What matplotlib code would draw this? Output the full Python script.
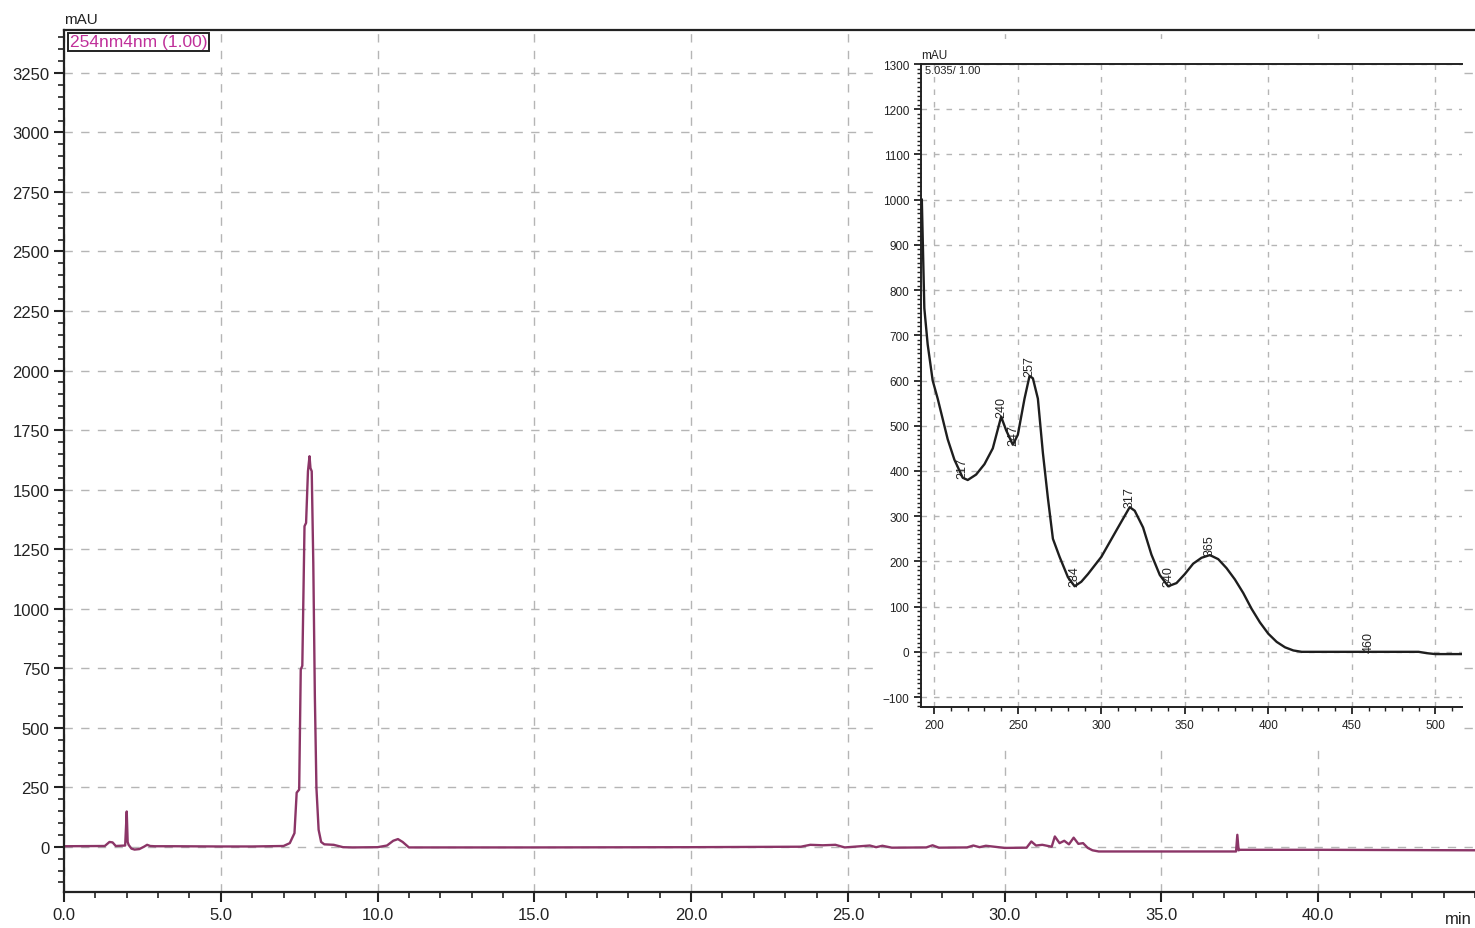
import numpy as np
import matplotlib
matplotlib.use("Agg")
import matplotlib.pyplot as plt
from matplotlib.ticker import MultipleLocator, FormatStrFormatter
from matplotlib.patches import Rectangle

plt.rcParams['font.family'] = ['Liberation Sans', 'DejaVu Sans']

# chromatogram, 254 nm
time_min = [0.0, 1.3, 1.45, 1.55, 1.65, 1.95, 2.0, 2.03, 2.06, 2.15,
            2.25, 2.4, 2.55, 2.65, 2.75, 2.9, 3.5, 5.0, 6.0, 7.0,
            7.2, 7.35, 7.42, 7.5, 7.55, 7.6, 7.67, 7.72, 7.78, 7.83,
            7.86, 7.9, 7.95, 8.0, 8.05, 8.12, 8.2, 8.3, 8.6, 8.9,
            9.2, 10.0, 10.3, 10.5, 10.65, 10.8, 11.0, 11.5, 15.0, 20.0,
            23.5, 23.8, 24.2, 24.6, 24.9, 25.7, 25.9, 26.1, 26.4, 27.5,
            27.7, 27.9, 28.8, 29.0, 29.2, 29.4, 30.0, 30.7, 30.85, 31.0,
            31.2, 31.5, 31.6, 31.75, 31.9, 32.05, 32.2, 32.35, 32.5, 32.65,
            32.8, 33.0, 35.0, 37.38, 37.42, 37.46, 37.5, 40.0, 45.0]
signal_mau = [2, 3, 20, 18, 3, 5, 148, 20, 8, -8,
              -12, -10, 0, 8, 3, 2, 2, 1, 1, 3,
              15, 57, 227, 240, 744, 760, 1346, 1360, 1577, 1640,
              1590, 1577, 1192, 631, 247, 71, 20, 10, 8, -2,
              -3, -2, 5, 25, 32, 20, -3, -3, -3, -2,
              0, 8, 6, 8, -3, 5, -2, 4, -4, -3,
              6, -4, -3, 5, -2, 4, -5, -4, 22, 5,
              8, 0, 43, 15, 25, 10, 38, 12, 15, -5,
              -15, -20, -20, -20, 50, -15, -13, -13, -15]

# UV spectrum of the main peak
wavelength = [192.5, 194, 196, 199, 202, 205, 208, 212, 217, 220,
              225, 230, 235, 240, 243, 247, 250, 254, 257, 259,
              262, 265, 268, 271, 275, 280, 284, 288, 292, 300,
              310, 317, 320, 325, 330, 335, 340, 345, 350, 355,
              360, 365, 370, 375, 380, 385, 390, 395, 400, 405,
              410, 415, 420, 460, 490, 495, 500, 516]
spectrum_mau = [1000, 760, 680, 600, 560, 515, 470, 425, 385, 380,
                392, 415, 450, 520, 490, 458, 480, 560, 610, 605,
                560, 440, 340, 250, 210, 165, 145, 155, 172, 210,
                275, 320, 312, 275, 215, 170, 145, 152, 172, 195,
                208, 214, 205, 185, 160, 130, 95, 65, 40, 22,
                10, 3, 0, 0, 0, -3, -5, -5]
peak_labels = [217, 240, 247, 257, 284, 317, 340, 365, 460]

line_col = '#8b3567'
frame_col = '#222222'
grid_col = '#b5b5b5'

fig = plt.figure(figsize=(14.75, 9.29), dpi=100)
ax = fig.add_axes([0.0434, 0.0388, 0.9566, 0.9278])
ax.plot(time_min, signal_mau, color=line_col, lw=1.7, zorder=2)
ax.set_xlim(0, 45)
ax.set_ylim(-190, 3430)
ax.xaxis.set_minor_locator(MultipleLocator(1))
ax.yaxis.set_major_locator(MultipleLocator(250))
ax.yaxis.set_minor_locator(MultipleLocator(50))
ax.set_xticks(np.arange(0, 45, 5))
ax.xaxis.set_major_formatter(FormatStrFormatter('%.1f'))
ax.tick_params(which='major', direction='out', length=7, width=1.5, colors=frame_col, labelsize=12)
ax.tick_params(which='minor', direction='out', length=4, width=1.2, colors=frame_col)
ax.grid(True, which='major', color=grid_col, ls=(0, (6, 6)), lw=1)
for s in ['left', 'bottom', 'top']:
    ax.spines[s].set_color(frame_col)
    ax.spines[s].set_linewidth(1.6)
ax.spines['right'].set_visible(False)
ax.text(0.0, 1.005, 'mAU', transform=ax.transAxes, fontsize=11, ha='left', va='bottom', color=frame_col)
ax.text(0.988, -0.022, 'min', transform=ax.transAxes, fontsize=12, ha='center', va='top', color=frame_col)
ax.text(0.004, 0.995, '254nm4nm (1.00)', transform=ax.transAxes, fontsize=12.5, color='#c0309a',
        ha='left', va='top', bbox=dict(boxstyle='square,pad=0.1', fc='white', ec=frame_col, lw=1.4))

# white panel under the inset
ax.add_patch(Rectangle((875 / 1475, 1 - 745 / 929), (1462 - 875) / 1475, (745 - 40) / 929,
                       transform=fig.transFigure, facecolor='white', edgecolor='none',
                       zorder=4, clip_on=False))

ins = fig.add_axes([0.6244, 0.2379, 0.3668, 0.6921])
ins.plot(wavelength, spectrum_mau, color='#1e1e1e', lw=1.7)
ins.set_xlim(192, 516)
ins.set_ylim(-122, 1300)
ins.xaxis.set_major_locator(MultipleLocator(50))
ins.xaxis.set_minor_locator(MultipleLocator(10))
ins.yaxis.set_major_locator(MultipleLocator(100))
ins.yaxis.set_minor_locator(MultipleLocator(10))
ins.tick_params(which='major', direction='out', length=5, width=1.3, colors=frame_col, labelsize=8.5)
ins.tick_params(which='minor', direction='out', length=3, width=1.0, colors=frame_col)
ins.grid(True, which='major', color=grid_col, ls=(0, (4, 5)), lw=1)
for s in ['left', 'bottom', 'top']:
    ins.spines[s].set_color(frame_col)
    ins.spines[s].set_linewidth(1.4)
ins.spines['right'].set_visible(False)
ins.text(0.0, 1.005, 'mAU', transform=ins.transAxes, fontsize=8.5, ha='left', va='bottom', color=frame_col)
ins.text(0.008, 0.998, '5.035/ 1.00', transform=ins.transAxes, fontsize=8, ha='left', va='top', color=frame_col)
for p in peak_labels:
    ins.text(p, np.interp(p, wavelength, spectrum_mau), str(p), rotation=90,
             ha='center', va='bottom', fontsize=9, color=frame_col)

fig.savefig('out.png', dpi=100)
